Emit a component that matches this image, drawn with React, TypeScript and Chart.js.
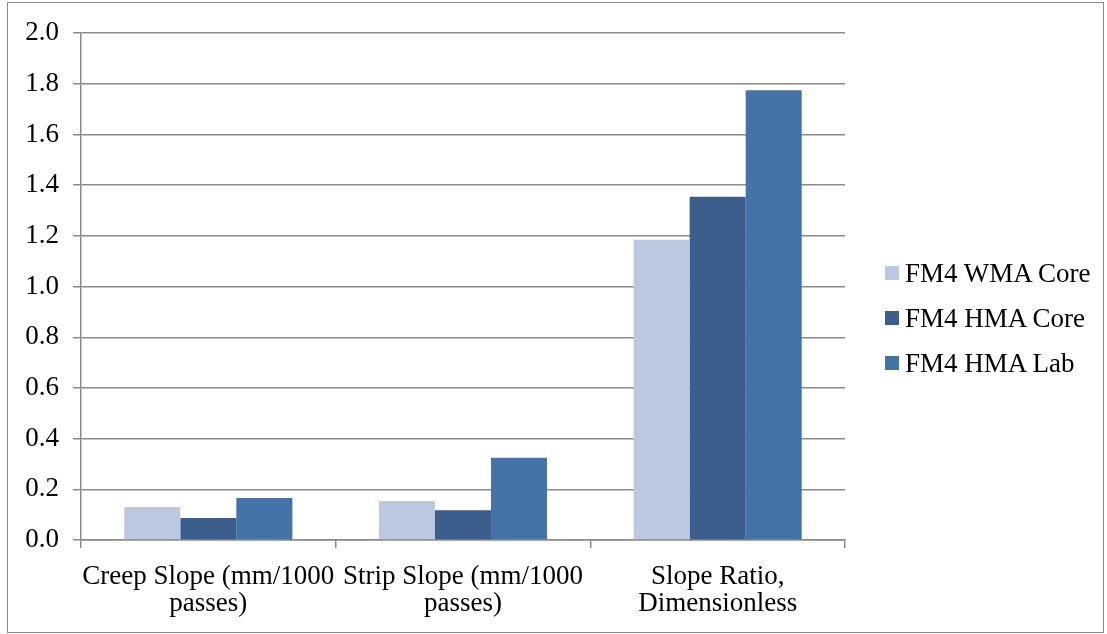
import React, { useEffect, useRef } from "react";
import { Chart, registerables } from "chart.js";

Chart.register(...registerables);

const categories: string[][] = [
  ["Creep Slope (mm/1000", "passes)"],
  ["Strip Slope (mm/1000", "passes)"],
  ["Slope Ratio,", "Dimensionless"],
];
const seriesNames = ["FM4 WMA Core", "FM4 HMA Core", "FM4 HMA Lab"];
const wmaCoreValues = [0.13, 0.154, 1.185];
const hmaCoreValues = [0.087, 0.117, 1.355];
const hmaLabValues = [0.166, 0.325, 1.775];
const seriesValues: number[][] = [wmaCoreValues, hmaCoreValues, hmaLabValues];
const seriesColors = ["#BCC8E0", "#3B5E8C", "#4473A7"];
const yTicks = [0, 0.2, 0.4, 0.6, 0.8, 1.0, 1.2, 1.4, 1.6, 1.8, 2.0];

const FONT = "'Liberation Serif', 'Times New Roman', serif";
const GRID = "#8a8a8a";

export default function App() {
  const ref = useRef<HTMLCanvasElement | null>(null);
  useEffect(() => {
    if (!ref.current) return;
    const chart = new Chart(ref.current, {
      type: "bar",
      data: {
        labels: categories,
        datasets: seriesNames.map((name, i) => ({
          label: name,
          data: seriesValues[i],
          backgroundColor: seriesColors[i],
          borderWidth: 0,
          barPercentage: 1,
          categoryPercentage: 0.66,
        })),
      },
      options: {
        animation: false,
        responsive: false,
        maintainAspectRatio: false,
        layout: { padding: { top: 28.5, right: 258, left: 0, bottom: 0 } },
        plugins: { legend: { display: false }, tooltip: { enabled: false } },
        scales: {
          x: {
            grid: {
              drawOnChartArea: false,
              drawTicks: true,
              tickLength: 8,
              color: GRID,
              lineWidth: 1.5,
            },
            border: { color: GRID, width: 1.5 },
            ticks: {
              color: "#000",
              font: { family: FONT, size: 27, lineHeight: 1.0 },
              padding: 15,
              maxRotation: 0,
              minRotation: 0,
              autoSkip: false,
            },
            afterFit: (s: any) => {
              s.height = 92;
            },
          },
          y: {
            min: 0,
            max: 2.0,
            afterBuildTicks: (s: any) => {
              s.ticks = yTicks.map((v) => ({ value: v }));
            },
            grid: {
              color: GRID,
              lineWidth: 1.5,
              drawTicks: true,
              tickLength: 8,
            },
            border: { color: GRID, width: 1.5 },
            ticks: {
              color: "#000",
              font: { family: FONT, size: 27 },
              padding: 14,
              callback: (v: any) => Number(v).toFixed(1),
            },
            afterFit: (s: any) => {
              s.width = 73;
            },
          },
        },
      },
    });
    return () => chart.destroy();
  }, []);

  return (
    <div
      style={{
        position: "absolute",
        left: 7,
        top: 2,
        width: 1097,
        height: 631,
        border: `1px solid ${GRID}`,
        boxSizing: "border-box",
        background: "#fff",
      }}
    >
      <canvas
        ref={ref}
        width={1095}
        height={629}
        style={{ position: "absolute", left: 0, top: 0, width: 1095, height: 629 }}
      />
      {seriesNames.map((name, i) => (
        <div
          key={name}
          style={{
            position: "absolute",
            left: 877,
            top: 255 + i * 45,
            height: 30,
            display: "flex",
            alignItems: "center",
            fontFamily: FONT,
            fontSize: 27,
            color: "#000",
            whiteSpace: "nowrap",
          }}
        >
          <span
            style={{
              display: "inline-block",
              width: 14,
              height: 14,
              background: seriesColors[i],
              marginRight: 6,
            }}
          />
          <span>{name}</span>
        </div>
      ))}
    </div>
  );
}
